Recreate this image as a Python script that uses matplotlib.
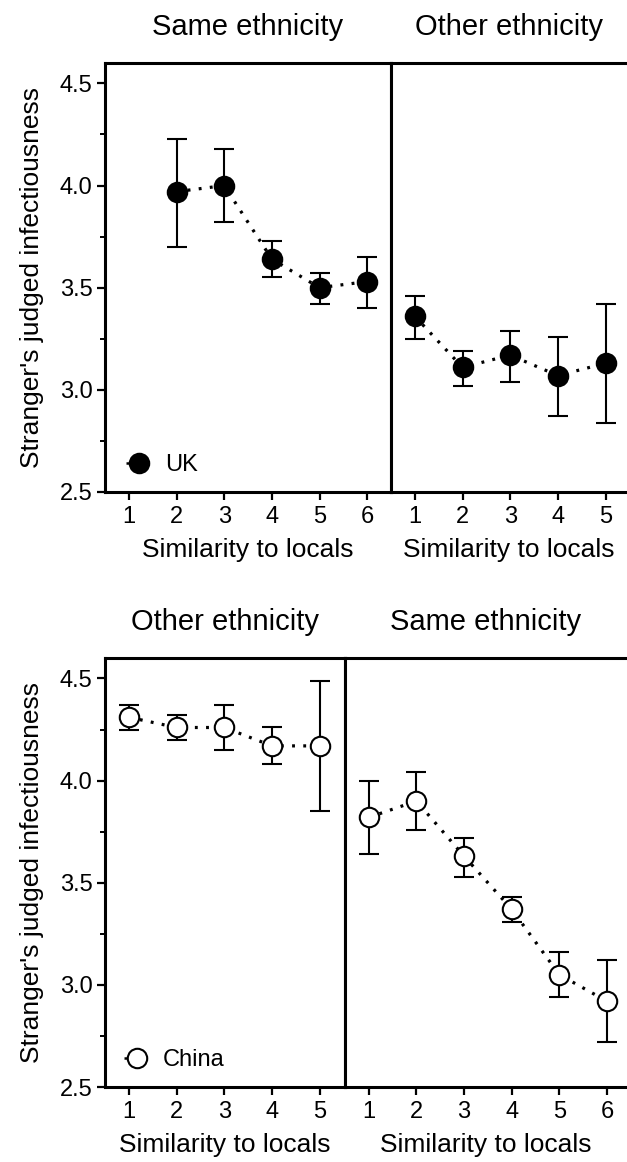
import matplotlib
matplotlib.use('Agg')
import matplotlib.pyplot as plt
from matplotlib.lines import Line2D
from matplotlib.ticker import MultipleLocator, FormatStrFormatter

plt.rcParams['font.family'] = ['Liberation Sans', 'DejaVu Sans']

# UK participants
uk_same_x = [2, 3, 4, 5, 6]
uk_same_mean = [3.97, 4.00, 3.64, 3.50, 3.53]
uk_same_lo = [3.70, 3.82, 3.55, 3.42, 3.40]
uk_same_hi = [4.23, 4.18, 3.73, 3.57, 3.65]

uk_other_x = [1, 2, 3, 4, 5]
uk_other_mean = [3.36, 3.11, 3.17, 3.07, 3.13]
uk_other_lo = [3.25, 3.02, 3.04, 2.87, 2.84]
uk_other_hi = [3.46, 3.19, 3.29, 3.26, 3.42]

# China participants
china_other_x = [1, 2, 3, 4, 5]
china_other_mean = [4.31, 4.26, 4.26, 4.17, 4.17]
china_other_lo = [4.25, 4.20, 4.15, 4.08, 3.85]
china_other_hi = [4.37, 4.32, 4.37, 4.26, 4.49]

china_same_x = [1, 2, 3, 4, 5, 6]
china_same_mean = [3.82, 3.90, 3.63, 3.37, 3.05, 2.92]
china_same_lo = [3.64, 3.76, 3.53, 3.31, 2.94, 2.72]
china_same_hi = [4.00, 4.04, 3.72, 3.43, 3.16, 3.12]

XLABEL = 'Similarity to locals'
YLABEL = "Stranger's judged infectiousness"
SPINE_W = 2.2
DOTS = (0, (0.9, 2.6))


def panel(ax, x, mean, lo, hi, face, title, xmax, first):
    yerr = [[m - l for m, l in zip(mean, lo)], [h - m for m, h in zip(mean, hi)]]
    ax.errorbar(x, mean, yerr=yerr, fmt='none', ecolor='black', elinewidth=1.5,
                capsize=7, capthick=1.5, zorder=2)
    ax.plot(x, mean, linestyle=DOTS, color='black', lw=2.3, marker='o',
            ms=14, mfc=face, mec='black', mew=1.5, zorder=3)
    ax.set_xlim(0.5, xmax)
    ax.set_ylim(2.5, 4.6)
    ax.set_xticks(x if x[0] == 1 else range(1, 7))
    ax.set_title(title, fontsize=21, pad=20)
    ax.set_xlabel(XLABEL, fontsize=19, labelpad=7)
    for s in ax.spines.values():
        s.set_linewidth(SPINE_W)
    ax.spines['right'].set_visible(first)
    ax.tick_params(axis='x', direction='out', length=6, width=1.6, labelsize=17, pad=4)
    if first:
        ax.yaxis.set_major_locator(MultipleLocator(0.5))
        ax.yaxis.set_minor_locator(MultipleLocator(0.25))
        ax.yaxis.set_major_formatter(FormatStrFormatter('%.1f'))
        ax.tick_params(axis='y', which='major', direction='out', length=6, width=1.6,
                       labelsize=17, pad=3)
        ax.tick_params(axis='y', which='minor', direction='out', length=3.5, width=1.4)
        ax.set_ylabel(YLABEL, fontsize=19, labelpad=11)
    else:
        ax.tick_params(axis='y', which='both', left=False, labelleft=False)


fig = plt.figure(figsize=(6.27, 11.62), dpi=100)
H = 0.3692
ax1 = fig.add_axes([0.1675, 0.5766, 0.6236 - 0.1675, H])
ax2 = fig.add_axes([0.6236, 0.5766, 1.0 - 0.6236, H])
ax3 = fig.add_axes([0.1675, 0.0645, 0.5502 - 0.1675, H])
ax4 = fig.add_axes([0.5502, 0.0645, 1.0 - 0.5502, H])

panel(ax1, uk_same_x, uk_same_mean, uk_same_lo, uk_same_hi, 'black',
      'Same ethnicity', 6.5, True)
panel(ax2, uk_other_x, uk_other_mean, uk_other_lo, uk_other_hi, 'black',
      'Other ethnicity', 5.45, False)
panel(ax3, china_other_x, china_other_mean, china_other_lo, china_other_hi, 'white',
      'Other ethnicity', 5.53, True)
panel(ax4, china_same_x, china_same_mean, china_same_lo, china_same_hi, 'white',
      'Same ethnicity', 6.42, False)

# legend handle: short stub of line to the left of the marker
for ax, face, name in [(ax1, 'black', 'UK'), (ax3, 'white', 'China')]:
    h = Line2D([], [], linestyle=(0, (2.5, 20)), color='black', lw=1.8, marker='o',
               ms=14, mfc=face, mec='black', mew=1.5)
    ax.legend([h], [name], loc='lower left', frameon=False, fontsize=17,
              handlelength=1.1, handletextpad=0.55, borderaxespad=0.0,
              bbox_to_anchor=(0.04, 0.015))

fig.savefig('out.png', dpi=100)
